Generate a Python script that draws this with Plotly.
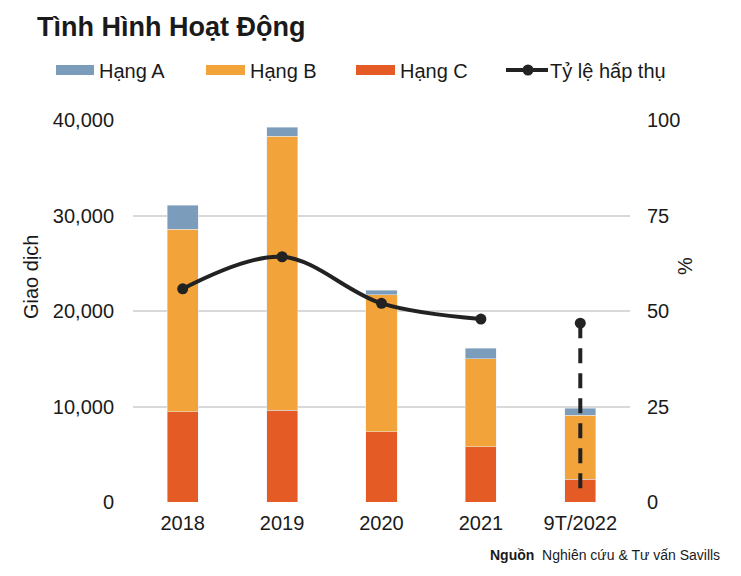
import plotly.graph_objects as go

categories = ["2018", "2019", "2020", "2021", "9T/2022"]
hang_c = [9450, 9630, 7360, 5790, 2370]
hang_b = [19100, 28690, 14350, 9220, 6710]
hang_a = [2520, 910, 460, 1080, 760]
ty_le_cat = ["2018", "2019", "2020", "2021"]
ty_le = [55.8, 64.2, 52.0, 47.9]
ty_le_9t = 46.8
ty_le_9t_low = 2.4

left_ticks = [0, 10000, 20000, 30000, 40000]
right_ticks = [0, 25, 50, 75, 100]

COL_A = "#7b9dbb"
COL_B = "#f2a33a"
COL_C = "#e55b26"
COL_LINE = "#222222"
TXT = "#1a1a1a"
FONT = "Liberation Sans, Arial, sans-serif"

W, H = 741, 576
OFF = 8  # page body margin
L, R, T, B = 133, 630, 120, 502  # plot area in page pixels


def px(x):
    return (x - L) / (R - L)


def py(y):
    return (B - y) / (B - T)


fig = go.Figure()
fig.add_trace(go.Bar(x=categories, y=hang_c, name="Hạng C", marker_color=COL_C, width=0.312))
fig.add_trace(go.Bar(x=categories, y=hang_b, name="Hạng B", marker_color=COL_B, width=0.312))
fig.add_trace(go.Bar(x=categories, y=hang_a, name="Hạng A", marker_color=COL_A, width=0.312))
fig.add_trace(go.Scatter(x=ty_le_cat, y=ty_le, yaxis="y2", mode="lines+markers",
                         line=dict(color=COL_LINE, width=4, shape="spline", smoothing=1),
                         marker=dict(size=11, color=COL_LINE), name="Tỷ lệ hấp thụ"))
fig.add_trace(go.Scatter(x=[categories[-1], categories[-1]], y=[ty_le_9t, ty_le_9t_low], yaxis="y2",
                         mode="lines", line=dict(color=COL_LINE, width=4, dash="15px,10px")))
fig.add_trace(go.Scatter(x=[categories[-1]], y=[ty_le_9t], yaxis="y2", mode="markers",
                         marker=dict(size=11, color=COL_LINE)))

annotations = []
shapes = []
# Title
annotations.append(dict(x=px(35), y=py(27), xref="paper", yref="paper", xanchor="left", yanchor="middle",
                        text="<b>Tình Hình Hoạt Động</b>", showarrow=False,
                        font=dict(family=FONT, size=27, color=TXT)))
# Legend
legend_items = [("Hạng A", COL_A, 56, 94), ("Hạng B", COL_B, 206, 245), ("Hạng C", COL_C, 356, 395)]
for name, col, x0, x1 in legend_items:
    shapes.append(dict(type="rect", xref="paper", yref="paper", x0=px(x0), x1=px(x1), y0=py(75), y1=py(65),
                       fillcolor=col, line=dict(width=0)))
    annotations.append(dict(x=px(x1 + 3), y=py(71), xref="paper", yref="paper", xanchor="left", yanchor="middle",
                            text=name, showarrow=False, font=dict(family=FONT, size=20, color=TXT)))
shapes.append(dict(type="line", xref="paper", yref="paper", x0=px(506), x1=px(548), y0=py(70), y1=py(70),
                   line=dict(color=COL_LINE, width=4)))
shapes.append(dict(type="circle", xref="paper", yref="paper", x0=px(522.5), x1=px(533.5), y0=py(75.5), y1=py(64.5),
                   fillcolor=COL_LINE, line=dict(width=0)))
annotations.append(dict(x=px(548), y=py(71), xref="paper", yref="paper", xanchor="left", yanchor="middle",
                        text="Tỷ lệ hấp thụ", showarrow=False, font=dict(family=FONT, size=20, color=TXT)))
# Axis titles
annotations.append(dict(x=px(31), y=py(277), xref="paper", yref="paper", xanchor="center", yanchor="middle",
                        text="Giao dịch", textangle=-90, showarrow=False, font=dict(family=FONT, size=20, color=TXT)))
annotations.append(dict(x=px(685), y=py(266), xref="paper", yref="paper", xanchor="center", yanchor="middle",
                        text="%", textangle=-90, showarrow=False, font=dict(family=FONT, size=20, color=TXT)))
# Source
annotations.append(dict(x=px(722), y=py(555), xref="paper", yref="paper", xanchor="right", yanchor="middle",
                        text="<b>Nguồn</b>  Nghiên cứu & Tư vấn Savills", showarrow=False,
                        font=dict(family=FONT, size=14, color=TXT)))

fig.update_layout(
    width=W - OFF, height=H - OFF,
    margin=dict(l=L - OFF, r=W - R, t=T - OFF, b=H - B, pad=0),
    barmode="stack",
    showlegend=False,
    plot_bgcolor="white", paper_bgcolor="white",
    font=dict(family=FONT, size=20, color=TXT),
    xaxis=dict(type="category", showgrid=False, showline=False, ticks="", ticklabelstandoff=7,
               tickfont=dict(size=20, color=TXT)),
    yaxis=dict(range=[0, 40000], tickvals=left_ticks, tickformat=",d", showgrid=True, gridcolor="#d9d9d9",
               gridwidth=1.5, zeroline=False, showline=False, ticks="", ticklabelstandoff=18,
               tickfont=dict(size=20, color=TXT)),
    yaxis2=dict(range=[0, 100], tickvals=right_ticks, overlaying="y", side="right", showgrid=False,
                zeroline=False, showline=False, ticks="", ticklabelstandoff=16,
                tickfont=dict(size=20, color=TXT)),
    annotations=annotations,
    shapes=shapes,
)

fig.write_html("out.html")
